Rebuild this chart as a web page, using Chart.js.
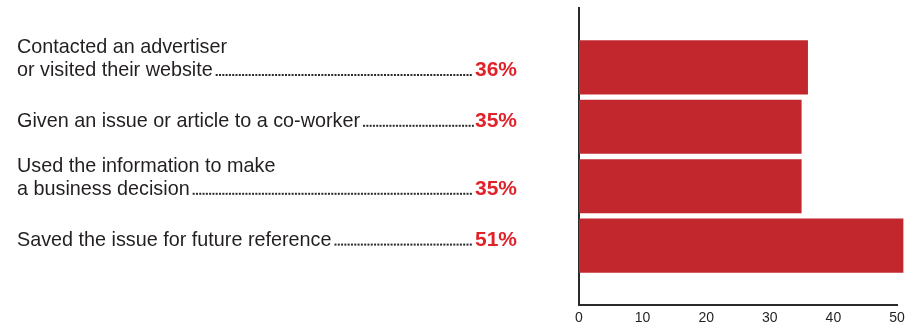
<!DOCTYPE html>
<html>
<head>
<meta charset="utf-8">
<script src="https://cdn.jsdelivr.net/npm/chart.js@4"></script>
<style>
html,body{margin:0;padding:0;background:#fff;}
#wrap{width:918px;height:323px;}
</style>
</head>
<body>
<div id="wrap"><canvas id="c" width="918" height="323"></canvas></div>
<script>
// ---- data ----
const categories = [
  ["Contacted an advertiser", "or visited their website"],
  ["Given an issue or article to a co-worker"],
  ["Used the information to make", "a business decision"],
  ["Saved the issue for future reference"]
];
const values = [36, 35, 35, 51];
const xTicks = [0, 10, 20, 30, 40, 50];

// padded with empty slots above/below so bars sit inside a taller axis
const labels = [''].concat(categories.map(c => c.join(' '))).concat(['']);
const data = [null].concat(values).concat([null]);

const FONT = '"Liberation Sans", Arial, Helvetica, sans-serif';

const leftLabels = {
  id: 'leftLabels',
  afterDraw(chart) {
    const ctx = chart.ctx;
    const y = chart.scales.y;
    const xText = 17;
    const xRight = 517;
    ctx.save();
    categories.forEach((lines, i) => {
      const cy = y.getPixelForValue(i + 1);
      const n = lines.length;
      const base0 = n === 1 ? cy : cy - 14.7;
      ctx.font = '19.8px ' + FONT;
      ctx.fillStyle = '#231f20';
      ctx.textBaseline = 'alphabetic';
      ctx.textAlign = 'left';
      let lastW = 0, lastB = base0;
      lines.forEach((ln, j) => {
        const b = base0 + j * 23.3;
        ctx.fillText(ln, xText, b);
        lastW = ctx.measureText(ln).width;
        lastB = b;
      });
      // percentage
      ctx.font = 'bold 21px ' + FONT;
      ctx.fillStyle = '#e0232a';
      ctx.textAlign = 'right';
      const pct = values[i] + '%';
      ctx.fillText(pct, xRight, lastB);
      const pw = ctx.measureText(pct).width;
      // dotted leader
      ctx.fillStyle = '#2a2a2a';
      const start = xText + lastW + 3;
      const end = xRight - pw - 2;
      for (let x = start; x < end; x += 3.3) {
        ctx.fillRect(x, lastB - 2, 2, 2);
      }
    });
    ctx.restore();
  }
};

new Chart(document.getElementById('c'), {
  type: 'bar',
  data: {
    labels: labels,
    datasets: [{
      data: data,
      backgroundColor: '#c1272d',
      borderWidth: 0,
      barPercentage: 0.91,
      categoryPercentage: 1,
      clip: false
    }]
  },
  options: {
    indexAxis: 'y',
    responsive: false,
    animation: false,
    layout: { padding: { left: 579, right: 21, top: 8, bottom: 0 } },
    plugins: { legend: { display: false }, tooltip: { enabled: false } },
    scales: {
      x: {
        type: 'linear',
        min: 0,
        max: 50,
        afterBuildTicks: (s) => { s.ticks = xTicks.map(v => ({ value: v })); },
        afterFit: (s) => { s.height = 18; },
        grid: { display: false, drawTicks: false },
        border: { display: true, color: '#2a2a2a', width: 2 },
        ticks: { color: '#231f20', padding: 5, maxRotation: 0, font: { family: FONT, size: 14 } }
      },
      y: {
        type: 'category',
        offset: false,
        afterFit: (s) => { s.width = 0; },
        grid: { display: false, drawTicks: false },
        border: { display: true, color: '#2a2a2a', width: 2 },
        ticks: { display: false }
      }
    }
  },
  plugins: [leftLabels]
});
</script>
</body>
</html>
